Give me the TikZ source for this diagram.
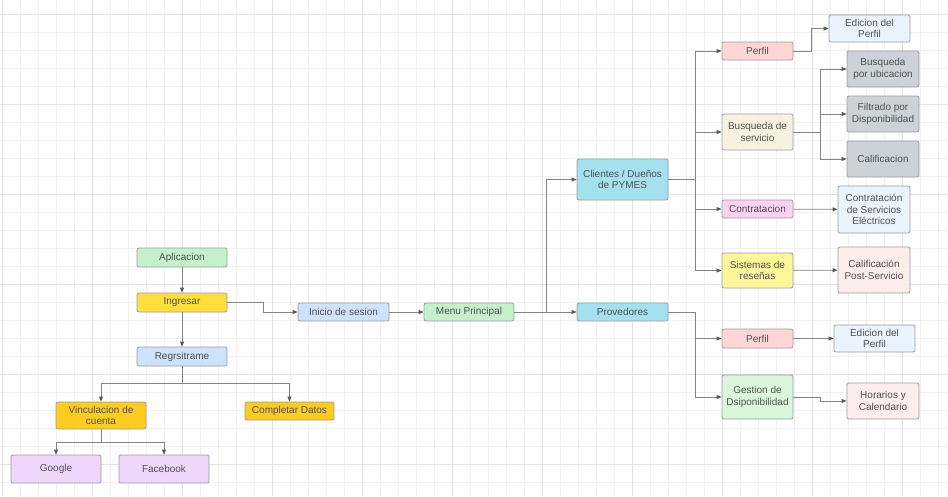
\documentclass[tikz,border=0pt]{standalone}
\usepackage{fontspec}
\setmainfont{Liberation Sans}
\usepackage{tikz}
\usetikzlibrary{arrows.meta, calc, positioning}

\definecolor{gridminor}{HTML}{F0F0F0}
\definecolor{gridmajor}{HTML}{E2E2E2}
\definecolor{boxline}{HTML}{9A9EA3}
\definecolor{wire}{HTML}{858585}
\definecolor{tipc}{HTML}{5A5A5A}
\definecolor{txt}{HTML}{505050}
\definecolor{cgreen}{HTML}{C4F1C9}
\definecolor{cyellow}{HTML}{FFDF3F}
\definecolor{cblue}{HTML}{CFE2FB}
\definecolor{cgold}{HTML}{FCCC1F}
\definecolor{cpurple}{HTML}{EFD7FB}
\definecolor{ccyan}{HTML}{A5E0EF}
\definecolor{cred}{HTML}{FFD5D5}
\definecolor{cpale}{HTML}{EAF3FE}
\definecolor{ccream}{HTML}{F7F2DF}
\definecolor{cgrey}{HTML}{CDD1D8}
\definecolor{cpink}{HTML}{FBD2F0}
\definecolor{clemon}{HTML}{FFF59B}
\definecolor{crose}{HTML}{FDEEEC}
\definecolor{cmint}{HTML}{DCF6DC}

\tikzset{
    box/.style={draw=boxline, line width=0.8pt, rounded corners=2pt, align=center,
        inner sep=1pt, text=txt, font=\fontsize{10}{11.7}\selectfont},
    hvh/.style={to path={-- ++(#1,0) |- (\tikztotarget)}},
    vhv/.style={to path={-- ++(0,#1) -| (\tikztotarget)}},
    conn/.style={draw=wire, line width=0.8pt, -{Triangle[length=5pt,width=4pt,color=tipc]}}
}

\begin{document}
\begin{tikzpicture}[x=1pt, y=-1pt]
                        % background grid
                        \useasboundingbox[fill=white] (0,0) rectangle (948,496);
                        \foreach \gx in {2,20,...,947} \draw[gridminor, line width=0.6pt] (\gx,0) -- (\gx,496);
                        \foreach \gy in {14,32,...,495} \draw[gridminor, line width=0.6pt] (0,\gy) -- (948,\gy);
                        \foreach \gx in {2,92,...,947} \draw[gridmajor, line width=0.7pt] (\gx,0) -- (\gx,496);
                        \foreach \gy in {14,104,...,495} \draw[gridmajor, line width=0.7pt] (0,\gy) -- (948,\gy);

                        \node[box, fill=cgreen, minimum width=90pt, minimum height=19pt] (apl) at (182, 257.5) {Aplicacion};
                        \node[box, fill=cyellow, minimum width=90pt, minimum height=19pt] (ing) at (182, 302.5) {Ingresar};
                        \node[box, fill=cblue, minimum width=90pt, minimum height=19pt] (reg) at (182, 356.5) {Regrsitrame};
                        \node[box, fill=cgold, minimum width=90pt, minimum height=27pt] (vinc) at (101, 415.5) {Vinculacion de\\cuenta};
                        \node[box, fill=cgold, minimum width=89pt, minimum height=18pt] (comp) at (289.5, 411) {Completar Datos};
                        \node[box, fill=cpurple, minimum width=90pt, minimum height=28pt] (goo) at (56, 469) {Google};
                        \node[box, fill=cpurple, minimum width=90pt, minimum height=28pt] (fac) at (164, 469) {Facebook};
                        \node[box, fill=cblue, minimum width=91pt, minimum height=18pt] (ini) at (343.5, 312) {Inicio de sesion};
                        \node[box, fill=cgreen, minimum width=90pt, minimum height=18pt] (menu) at (469, 312) {Menu Principal};
                        \node[box, fill=ccyan, minimum width=91pt, minimum height=41pt] (cli) at (622.5, 179.5) {Clientes / Dueños\\de PYMES};
                        \node[box, fill=ccyan, minimum width=91pt, minimum height=18pt] (prov) at (622.5, 312) {Provedores};

                        \node[box, fill=cred, minimum width=71pt, minimum height=18pt] (perf1) at (757.5, 51) {Perfil};
                        \node[box, fill=cpale, minimum width=81pt, minimum height=27pt] (edi1) at (869.5, 28.5) {Edicion del\\Perfil};
                        \node[box, fill=ccream, minimum width=71pt, minimum height=36pt] (bus) at (757.5, 132) {Busqueda de\\servicio};
                        \node[box, fill=cgrey, minimum width=72pt, minimum height=36pt] (ubic) at (883, 69) {Busqueda\\por ubicacion};
                        \node[box, fill=cgrey, minimum width=72pt, minimum height=36pt] (filt) at (883, 114) {Filtrado por\\Disponibilidad};
                        \node[box, fill=cgrey, minimum width=72pt, minimum height=36pt] (cal) at (883, 159) {Calificacion};
                        \node[box, fill=cpink, minimum width=71pt, minimum height=18pt] (contr) at (757.5, 209) {Contratacion};
                        \node[box, fill=cpale, minimum width=72pt, minimum height=47pt] (serv) at (874, 209.5) {Contratación\\de Servicios\\Eléctricos};
                        \node[box, fill=clemon, minimum width=71pt, minimum height=35pt] (res) at (757.5, 270.5) {Sistemas de\\reseñas};
                        \node[box, fill=crose, minimum width=72pt, minimum height=46pt] (post) at (874, 270) {Calificación\\Post-Servicio};
                        \node[box, fill=cred, minimum width=71pt, minimum height=19pt] (perf2) at (757.5, 338.5) {Perfil};
                        \node[box, fill=cpale, minimum width=81pt, minimum height=27pt] (edi2) at (874.5, 338.5) {Edicion del\\Perfil};
                        \node[box, fill=cmint, minimum width=71pt, minimum height=44pt] (gest) at (757.5, 397) {Gestion de\\Dsiponibilidad};
                        \node[box, fill=crose, minimum width=72pt, minimum height=36pt] (hor) at (883, 401) {Horarios y\\Calendario};

                        \path
                        (apl) edge[conn] (ing)
                        (ing) edge[conn] (reg)
                        (ing.east) edge[conn, hvh=36] (ini)
                        (reg.south) edge[conn, vhv=17] (vinc)
                        (reg.south) edge[conn, vhv=17] (comp)
                        (vinc.south) edge[conn, vhv=13] (goo)
                        (vinc.south) edge[conn, vhv=13] (fac)
                        (ini) edge[conn] (menu)
                        (menu.east) edge[conn, hvh=32] (cli)
                        (menu) edge[conn] (prov)
                        (cli.east) edge[conn, hvh=27] (perf1)
                        (cli.east) edge[conn, hvh=27] (bus)
                        (cli.east) edge[conn, hvh=27] (contr)
                        (cli.east) edge[conn, hvh=27] (res)
                        (perf1.east) edge[conn, hvh=18] (edi1)
                        (bus.east) edge[conn, hvh=27] (ubic)
                        (bus.east) edge[conn, hvh=27] (filt)
                        (bus.east) edge[conn, hvh=27] (cal)
                        (contr) edge[conn] (serv)
                        (res) edge[conn] (post)
                        (prov.east) edge[conn, hvh=27] (perf2)
                        (prov.east) edge[conn, hvh=27] (gest)
                        (perf2) edge[conn] (edi2)
                        (gest.east) edge[conn, hvh=27] (hor);
                    \end{tikzpicture}
\end{document}
